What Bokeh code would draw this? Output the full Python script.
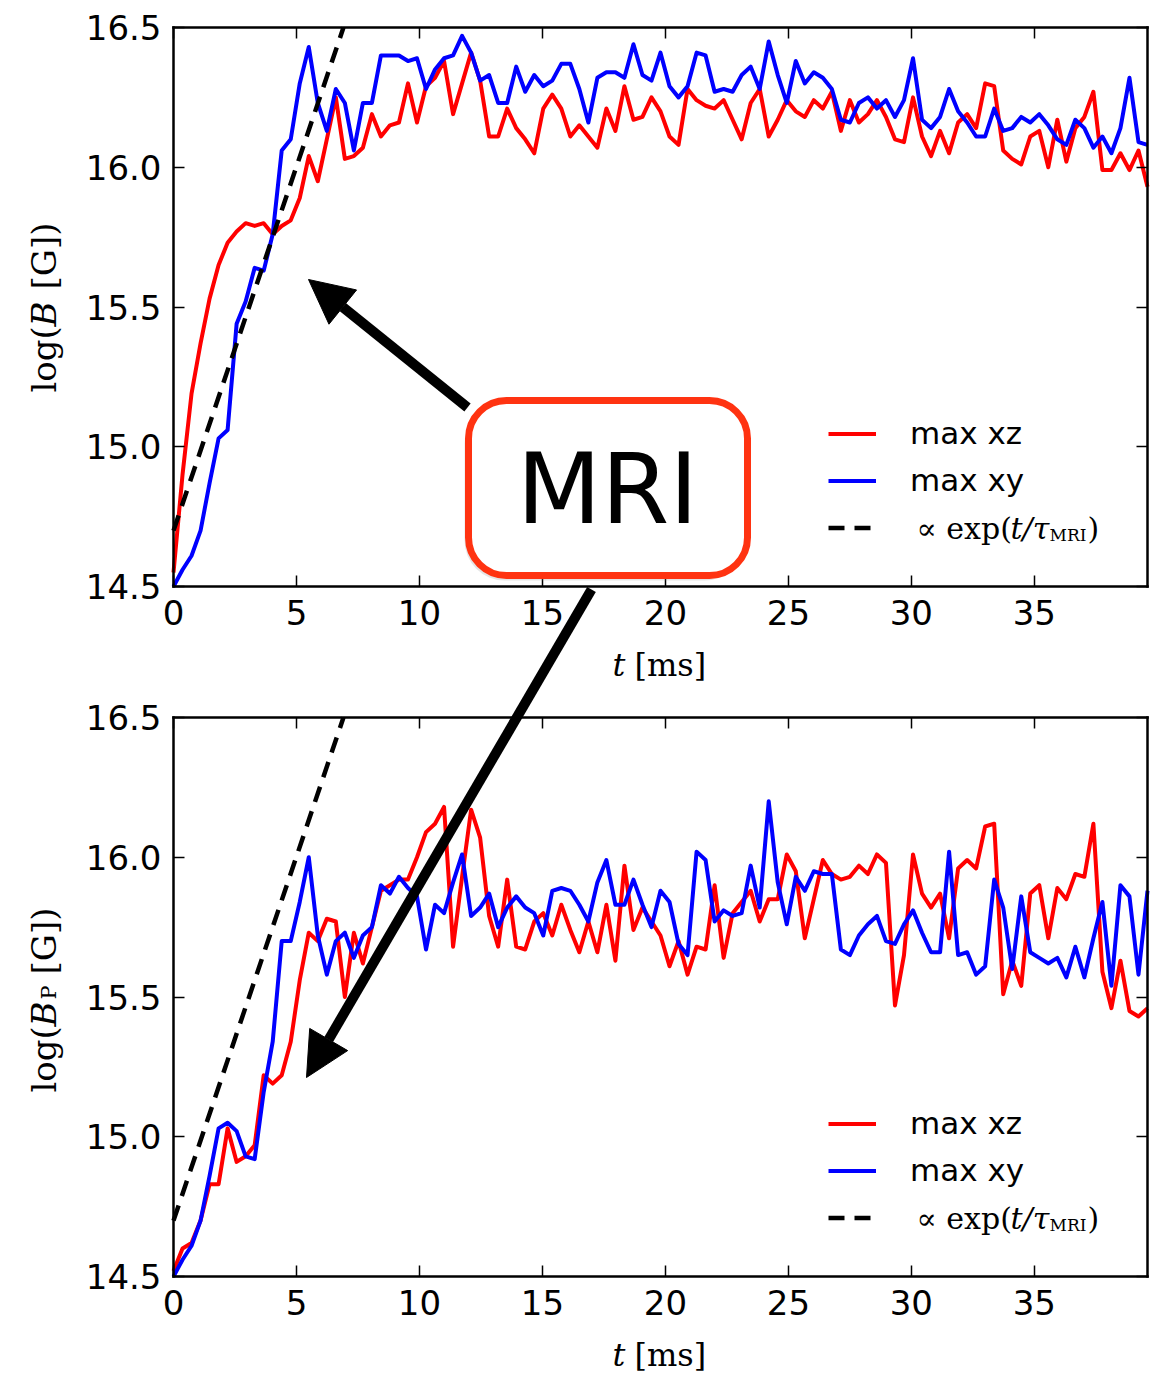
import math
from bokeh.plotting import figure
from bokeh.models import (Range1d, LinearAxis, FixedTicker, PrintfTickFormatter, Legend,
                          LegendItem, Label, BoxAnnotation, Arrow, NormalHead)
from bokeh.embed import file_html
from bokeh.resources import INLINE

# ---------------- data ----------------
T_END = 39.6
N_SAMPLES = 109
t_ms = [round(i * T_END / (N_SAMPLES - 1), 4) for i in range(N_SAMPLES)]

# top panel: log(B [G])
B_xz = [14.55, 14.90, 15.19, 15.37, 15.53, 15.65, 15.73, 15.77, 15.80, 15.79,
        15.80, 15.76, 15.79, 15.81, 15.89, 16.04, 15.95, 16.10, 16.25, 16.03,
        16.04, 16.07, 16.19, 16.11, 16.15, 16.16, 16.30, 16.16, 16.29, 16.32,
        16.38, 16.19, 16.30, 16.41, 16.31, 16.11, 16.11, 16.21, 16.14, 16.10,
        16.05, 16.21, 16.26, 16.21, 16.11, 16.15, 16.11, 16.07, 16.21, 16.13,
        16.29, 16.17, 16.18, 16.25, 16.20, 16.11, 16.08, 16.28, 16.24, 16.22,
        16.21, 16.24, 16.17, 16.10, 16.23, 16.28, 16.11, 16.17, 16.24, 16.20,
        16.18, 16.24, 16.21, 16.27, 16.13, 16.24, 16.16, 16.19, 16.24, 16.18,
        16.10, 16.09, 16.25, 16.11, 16.04, 16.13, 16.05, 16.16, 16.19, 16.14,
        16.30, 16.29, 16.06, 16.03, 16.01, 16.11, 16.13, 16.00, 16.17, 16.02,
        16.14, 16.18, 16.27, 15.99, 15.99, 16.05, 15.99, 16.06, 15.93]
B_xy = [14.50, 14.56, 14.61, 14.70, 14.87, 15.03, 15.06, 15.44, 15.52, 15.64,
        15.63, 15.76, 16.06, 16.10, 16.30, 16.43, 16.23, 16.13, 16.28, 16.23,
        16.06, 16.23, 16.23, 16.40, 16.40, 16.40, 16.38, 16.39, 16.28, 16.35,
        16.39, 16.40, 16.47, 16.41, 16.31, 16.33, 16.23, 16.23, 16.36, 16.27,
        16.33, 16.29, 16.31, 16.37, 16.37, 16.28, 16.16, 16.32, 16.34, 16.34,
        16.32, 16.44, 16.33, 16.31, 16.41, 16.29, 16.25, 16.29, 16.41, 16.40,
        16.27, 16.28, 16.27, 16.33, 16.36, 16.28, 16.45, 16.33, 16.23, 16.38,
        16.30, 16.34, 16.32, 16.28, 16.17, 16.16, 16.23, 16.25, 16.21, 16.24,
        16.18, 16.24, 16.39, 16.17, 16.14, 16.18, 16.28, 16.20, 16.16, 16.11,
        16.11, 16.21, 16.13, 16.14, 16.18, 16.16, 16.19, 16.15, 16.10, 16.08,
        16.17, 16.14, 16.07, 16.11, 16.05, 16.14, 16.32, 16.09, 16.08]

# bottom panel: log(B_P [G])
BP_xz = [14.52, 14.60, 14.62, 14.70, 14.83, 14.83, 15.03, 14.91, 14.93, 14.97,
         15.22, 15.19, 15.22, 15.34, 15.56, 15.73, 15.70, 15.78, 15.77, 15.50,
         15.73, 15.62, 15.75, 15.88, 15.90, 15.92, 15.92, 16.00, 16.09, 16.12,
         16.18, 15.68, 15.93, 16.17, 16.07, 15.79, 15.68, 15.92, 15.68, 15.67,
         15.77, 15.80, 15.72, 15.83, 15.74, 15.66, 15.77, 15.66, 15.83, 15.63,
         15.97, 15.74, 15.82, 15.77, 15.72, 15.61, 15.70, 15.58, 15.68, 15.67,
         15.90, 15.64, 15.80, 15.84, 15.88, 15.77, 15.85, 15.85, 16.01, 15.95,
         15.71, 15.85, 15.99, 15.94, 15.92, 15.93, 15.97, 15.94, 16.01, 15.98,
         15.47, 15.65, 16.01, 15.87, 15.82, 15.87, 15.71, 15.96, 15.99, 15.96,
         16.11, 16.12, 15.51, 15.63, 15.54, 15.87, 15.90, 15.71, 15.89, 15.85,
         15.94, 15.93, 16.12, 15.59, 15.46, 15.63, 15.45, 15.43, 15.46]
BP_xy = [14.50, 14.56, 14.61, 14.70, 14.86, 15.03, 15.05, 15.02, 14.93, 14.92,
         15.16, 15.34, 15.70, 15.70, 15.84, 16.00, 15.72, 15.58, 15.70, 15.73,
         15.64, 15.72, 15.75, 15.90, 15.87, 15.93, 15.89, 15.86, 15.67, 15.83,
         15.80, 15.91, 16.01, 15.79, 15.82, 15.87, 15.75, 15.82, 15.86, 15.82,
         15.80, 15.72, 15.88, 15.89, 15.88, 15.83, 15.77, 15.91, 15.99, 15.83,
         15.83, 15.92, 15.83, 15.75, 15.88, 15.84, 15.69, 15.65, 16.02, 15.99,
         15.77, 15.81, 15.79, 15.80, 15.97, 15.82, 16.20, 15.91, 15.76, 15.93,
         15.88, 15.95, 15.94, 15.94, 15.67, 15.65, 15.72, 15.76, 15.79, 15.70,
         15.69, 15.76, 15.81, 15.73, 15.66, 15.66, 16.02, 15.65, 15.66, 15.58,
         15.61, 15.92, 15.82, 15.60, 15.86, 15.66, 15.64, 15.62, 15.64, 15.57,
         15.68, 15.57, 15.71, 15.84, 15.54, 15.90, 15.86, 15.58, 15.88]

# exponential MRI growth guide (straight line in log space)
fit_t = [0.0, 6.91]
fit_logB = [14.70, 16.50]

series_names = ["max xz", "max xy"]
x_ticks = [0, 5, 10, 15, 20, 25, 30, 35]
y_ticks = [14.5, 15.0, 15.5, 16.0, 16.5]
Y_LO, Y_HI = 14.5, 16.5

# ---------------- layout geometry (pixels) ----------------
W, H = 1160, 1380
PANEL_L, PANEL_R, PANEL_T = 173, 1147, 27
PANEL_H = 559          # height of one panel
PANEL_SHIFT = 690      # offset from top panel to bottom panel
upp = (Y_HI - Y_LO) / PANEL_H
xpp = T_END / (PANEL_R - PANEL_L)


def X(px):
    return (px - PANEL_L) * xpp


def YT(py):
    # top-panel data value at page pixel row py
    return Y_HI - (py - PANEL_T) * upp


# the frame spans the whole canvas; the two panels are drawn inside it
p = figure(width=W, height=H, x_range=Range1d(X(0), X(W)), y_range=Range1d(YT(H), YT(0)),
           output_backend="svg", toolbar_location=None,
           x_axis_location=None, y_axis_location=None,
           min_border_left=0, min_border_right=0, min_border_top=0, min_border_bottom=0,
           outline_line_color=None, background_fill_color="white",
           border_fill_color="white")
p.extra_y_ranges = {"bot": Range1d(YT(H - PANEL_SHIFT), YT(-PANEL_SHIFT))}
p.grid.visible = False

RED, BLUE = "#ff0000", "#0000ff"
LW = 4
DASH = "16 10"

r_top_red = p.line(t_ms, B_xz, line_color=RED, line_width=LW, line_join="round")
r_top_blue = p.line(t_ms, B_xy, line_color=BLUE, line_width=LW, line_join="round")
r_top_fit = p.line(fit_t, fit_logB, line_color="black", line_width=4.5, line_dash=DASH)

r_bot_red = p.line(t_ms, BP_xz, line_color=RED, line_width=LW, line_join="round",
                   y_range_name="bot")
r_bot_blue = p.line(t_ms, BP_xy, line_color=BLUE, line_width=LW, line_join="round",
                    y_range_name="bot")
r_bot_fit = p.line(fit_t, fit_logB, line_color="black", line_width=4.5, line_dash=DASH,
                   y_range_name="bot")

TICK_FONT = "DejaVu Sans"
SERIF = "DejaVu Serif"


def style_axis(ax, show_labels, standoff):
    ax.axis_line_width = 2.5
    ax.axis_line_color = "black"
    ax.axis_line_cap = "square"
    ax.major_tick_in = 11
    ax.major_tick_out = 0
    ax.major_tick_line_width = 1.5
    ax.major_tick_line_color = "black"
    ax.minor_tick_line_color = None
    ax.major_label_text_font = TICK_FONT
    ax.major_label_text_font_size = "34px"
    ax.major_label_text_color = "black" if show_labels else None
    ax.major_label_standoff = standoff


def add_x_axis(loc, side, show):
    ax = LinearAxis(ticker=FixedTicker(ticks=x_ticks),
                    formatter=PrintfTickFormatter(format="%d"),
                    fixed_location=loc, bounds=(0, T_END))
    style_axis(ax, show, 13)
    p.add_layout(ax, side)


def add_y_axis(loc, side, show, rng="default"):
    ax = LinearAxis(ticker=FixedTicker(ticks=y_ticks),
                    formatter=PrintfTickFormatter(format="%.1f"),
                    fixed_location=loc, bounds=(Y_LO, Y_HI), y_range_name=rng)
    style_axis(ax, show, 12)
    p.add_layout(ax, side)


# top panel axes
add_x_axis(YT(PANEL_T + PANEL_H), "below", True)
add_x_axis(YT(PANEL_T), "above", False)
add_y_axis(0, "left", True)
add_y_axis(T_END, "right", False)
# bottom panel axes
add_x_axis(YT(PANEL_T + PANEL_H + PANEL_SHIFT), "below", True)
add_x_axis(YT(PANEL_T + PANEL_SHIFT), "above", False)
add_y_axis(0, "left", True, "bot")
add_y_axis(T_END, "right", False, "bot")


def lab(text, x, y, size, style="normal", font=SERIF, angle=0.0, align="left",
        baseline="alphabetic", rng="default"):
    p.add_layout(Label(x=x, y=y, text=text, text_font=font, text_font_size=f"{size}px",
                       text_font_style=style, text_align=align, text_baseline=baseline,
                       angle=angle, text_color="black", y_range_name=rng))


# axis titles (built from pieces so that the math symbols are italic)
for rng in ("default", "bot"):
    lab("t", X(612), YT(664), 32, style="italic", rng=rng)
    lab("[ms]", X(634), YT(664), 32, rng=rng)

R90 = math.pi / 2
xb = X(43)
lab("log(", xb, YT(392), 34, angle=R90)
lab("B", xb, YT(326), 34, style="italic", angle=R90)
lab("[G])", xb, YT(289), 34, angle=R90)

lab("log(", xb, YT(1092 - PANEL_SHIFT), 34, angle=R90, rng="bot")
lab("B", xb, YT(1026 - PANEL_SHIFT), 34, style="italic", angle=R90, rng="bot")
lab("P", X(48), YT(999 - PANEL_SHIFT), 21, angle=R90, rng="bot")
lab("[G])", xb, YT(974 - PANEL_SHIFT), 34, angle=R90, rng="bot")

# legends (location measured from the bottom-left of the canvas-wide frame)
for rng, reds, blues, fits, vy in (("default", r_top_red, r_top_blue, r_top_fit, H - 550.5),
                                    ("bot", r_bot_red, r_bot_blue, r_bot_fit,
                                     H - 550.5 - PANEL_SHIFT)):
    leg = Legend(items=[LegendItem(label=series_names[0], renderers=[reds]),
                        LegendItem(label=series_names[1], renderers=[blues]),
                        LegendItem(label=" ", renderers=[fits])],
                 location=(828, vy), orientation="vertical",
                 border_line_color=None, background_fill_alpha=0,
                 padding=0, margin=0, spacing=0,
                 glyph_width=48, glyph_height=47, label_height=47, label_standoff=34,
                 label_text_font=TICK_FONT, label_text_font_size="31px",
                 label_text_color="black")
    p.add_layout(leg)
    lab("\u221d exp(", X(916), YT(528), 30, rng=rng)
    lab("t/\u03c4", X(1010), YT(528), 30, style="italic", rng=rng)
    lab("MRI", X(1049), YT(534), 17, rng=rng)
    lab(")", X(1087), YT(528), 30, rng=rng)

# MRI call-out box (with a faint drop shadow) and arrows
p.add_layout(BoxAnnotation(left=X(464), right=X(744), top=YT(403), bottom=YT(580),
                           fill_color="#888888", fill_alpha=0.22, line_color=None,
                           border_radius=40))
p.add_layout(BoxAnnotation(left=X(468), right=X(747), top=YT(400), bottom=YT(575),
                           fill_color="white", fill_alpha=1.0, line_color="#ff3311",
                           line_alpha=1.0, line_width=7, border_radius=38))
lab("MRI", X(607), YT(488), 98, font="DejaVu Sans", align="center")

for xs, ys, xe, ye in ((467, 407, 308, 279), (591, 589, 306, 1077)):
    p.add_layout(Arrow(x_start=X(xs), y_start=YT(ys), x_end=X(xe), y_end=YT(ye),
                       line_width=10, line_color="black",
                       end=NormalHead(size=44, fill_color="black", line_color="black",
                                      line_width=1)))

open("out.html", "w").write(file_html(p, INLINE))
